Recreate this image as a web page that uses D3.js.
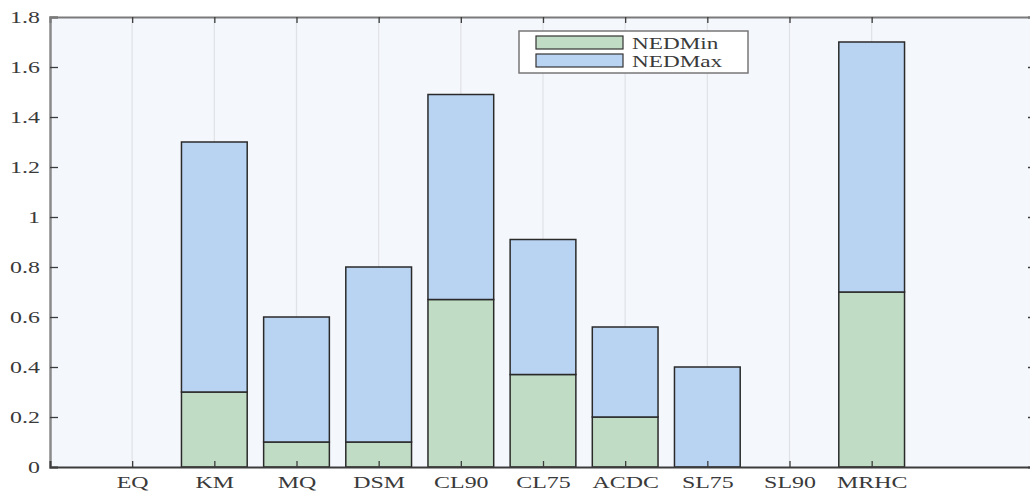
<!DOCTYPE html>
<html>
<head>
<meta charset="utf-8">
<script src="https://cdn.jsdelivr.net/npm/d3@7"></script>
<style>
  html, body { margin: 0; padding: 0; background: #ffffff; }
  svg { display: block; }
  text { font-family: "Liberation Serif", "DejaVu Serif", serif; }
</style>
</head>
<body>
<svg id="chart" width="1030" height="491"></svg>
<script>
// Methods on the x axis
const categories = ["EQ", "KM", "MQ", "DSM", "CL90", "CL75", "ACDC", "SL75", "SL90", "MRHC"];
// Stacked segments: lower part (NEDMin) and the part stacked above it (NEDMax)
const nedMin = [0, 0.30, 0.10, 0.10, 0.67, 0.37, 0.20, 0, 0, 0.70];
const nedMax = [0, 1.00, 0.50, 0.70, 0.82, 0.54, 0.36, 0.40, 0, 1.00];
const seriesNames = ["NEDMin", "NEDMax"];
const seriesColors = ["#c1dcc5", "#b9d4f2"];
const yTicks = [0, 0.2, 0.4, 0.6, 0.8, 1, 1.2, 1.4, 1.6, 1.8];

const svg = d3.select("#chart");
const plot = { left: 50, right: 1036, top: 17, bottom: 467 };
// Text is drawn horizontally widened
const textStretch = 1.45;
const textColor = "#3a3a3a";

// Category positions 1..10 on a 0..12 span
const x = d3.scaleLinear().domain([0, categories.length + 2]).range([plot.left, plot.right]);
const y = d3.scaleLinear().domain([0, 1.8]).range([plot.bottom, plot.top]);
const step = x(1) - x(0);
const barW = step * 0.8;

const rows = categories.map((c, i) => ({ cat: c, idx: i + 1, NEDMin: nedMin[i], NEDMax: nedMax[i] }));
const stacked = d3.stack().keys(seriesNames)(rows);

// Re-anchor a text at its x/y and widen it
function widen(sel) {
  sel.each(function () {
    const t = d3.select(this);
    const tx = +t.attr("x") || 0, ty = +t.attr("y") || 0;
    t.attr("x", 0).attr("y", 0)
      .attr("transform", `translate(${tx},${ty}) scale(${textStretch},1)`);
  });
}

// Plot background
svg.append("rect")
  .attr("x", plot.left).attr("y", plot.top)
  .attr("width", plot.right - plot.left).attr("height", plot.bottom - plot.top)
  .attr("fill", "#f4f7fc");

// Vertical grid lines at category ticks
svg.append("g")
  .selectAll("line")
  .data(rows)
  .join("line")
  .attr("x1", d => x(d.idx)).attr("x2", d => x(d.idx))
  .attr("y1", plot.top).attr("y2", plot.bottom)
  .attr("stroke", "#dfe2e6")
  .attr("stroke-width", 1.2);

// Bars
svg.append("g")
  .selectAll("g")
  .data(stacked)
  .join("g")
  .attr("fill", (d, i) => seriesColors[i])
  .selectAll("rect")
  .data(d => d.filter(s => s[1] - s[0] > 0))
  .join("rect")
  .attr("x", d => x(d.data.idx) - barW / 2)
  .attr("y", d => y(d[1]))
  .attr("width", barW)
  .attr("height", d => y(d[0]) - y(d[1]))
  .attr("stroke", "#2a2a2a")
  .attr("stroke-width", 1.5);

// Axes
const axisColor = "#3c3c3c";
const yAxisL = d3.axisLeft(y).tickValues(yTicks).tickSize(-8).tickPadding(10)
  .tickFormat(d => d3.format("")(+d.toFixed(1)));
const gy = svg.append("g").attr("transform", `translate(${plot.left},0)`).call(yAxisL);
gy.select(".domain").attr("stroke", "#8a8a8a").attr("stroke-width", 2.5);
gy.selectAll(".tick line").attr("stroke", axisColor).attr("stroke-width", 1.3);
gy.selectAll(".tick text").attr("fill", textColor).attr("font-size", 16.5)
  .attr("font-family", "'Liberation Serif', serif").call(widen);

const gyR = svg.append("g").attr("transform", `translate(${plot.right},0)`)
  .call(d3.axisRight(y).tickValues(yTicks).tickSize(-8).tickFormat(""));
gyR.select(".domain").attr("stroke", "#8a8a8a").attr("stroke-width", 2);
gyR.selectAll(".tick line").attr("stroke", axisColor).attr("stroke-width", 1.3);

const xAxisB = d3.axisBottom(x).tickValues(rows.map(d => d.idx)).tickSize(-6).tickPadding(9)
  .tickFormat(d => categories[d - 1]);
const gx = svg.append("g").attr("transform", `translate(0,${plot.bottom})`).call(xAxisB);
gx.select(".domain").attr("stroke", axisColor).attr("stroke-width", 2);
gx.selectAll(".tick line").attr("stroke", axisColor).attr("stroke-width", 1.3);
gx.selectAll(".tick text").attr("fill", textColor).attr("font-size", 16.5)
  .attr("font-family", "'Liberation Serif', serif").call(widen);

const gxT = svg.append("g").attr("transform", `translate(0,${plot.top})`)
  .call(d3.axisTop(x).tickValues(rows.map(d => d.idx)).tickSize(-6).tickFormat(""));
gxT.select(".domain").attr("stroke", "#7a7a7a").attr("stroke-width", 2);
gxT.selectAll(".tick line").attr("stroke", axisColor).attr("stroke-width", 1.3);

// Legend
const legend = svg.append("g").attr("transform", "translate(519,31)");
legend.append("rect")
  .attr("width", 229).attr("height", 42)
  .attr("fill", "#ffffff").attr("stroke", "#777").attr("stroke-width", 1.5);
seriesNames.forEach((name, i) => {
  legend.append("rect")
    .attr("x", 17).attr("y", 5 + i * 18)
    .attr("width", 87).attr("height", 13)
    .attr("fill", seriesColors[i]).attr("stroke", "#333").attr("stroke-width", 1.2);
  legend.append("text")
    .attr("x", 113).attr("y", 18 + i * 17.5)
    .attr("font-size", 16).attr("fill", textColor)
    .text(name)
    .call(widen);
});
</script>
</body>
</html>
